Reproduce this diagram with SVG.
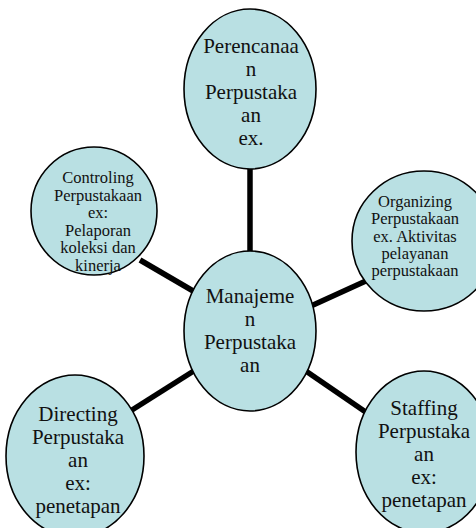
<svg xmlns="http://www.w3.org/2000/svg" width="476" height="528" viewBox="0 0 476 528">
<style>
.node ellipse{fill:#b9e0e3;stroke:#000;stroke-width:1.6}
.big{font-family:"Liberation Serif","Times New Roman",serif;font-size:21px;fill:#111;text-anchor:middle}
.small{font-family:"Liberation Serif","Times New Roman",serif;font-size:16.5px;fill:#111;text-anchor:middle}
.conn line{stroke:#000;stroke-width:5.5;stroke-linecap:butt}
</style>
<rect width="476" height="528" fill="#fff"/>
<g id="connectors" class="conn">
<line x1="250" y1="160" x2="250" y2="260"/>
<line x1="200" y1="295" x2="140" y2="260"/>
<line x1="300" y1="311" x2="368" y2="280"/>
<line x1="200" y1="367" x2="132" y2="410"/>
<line x1="300" y1="367" x2="370" y2="415"/>
</g>
<g id="perencanaan" class="node">
<ellipse cx="250" cy="89" rx="66" ry="80"/>
<text class="big" x="251" y="53">Perencanaa</text>
<text class="big" x="251" y="76">n</text>
<text class="big" x="251" y="99">Perpustaka</text>
<text class="big" x="251" y="122">an</text>
<text class="big" x="251" y="145">ex.</text>
</g>
<g id="controling" class="node">
<ellipse cx="94" cy="211" rx="63" ry="64"/>
<text class="small" x="98" y="183">Controling</text>
<text class="small" x="98" y="200.5">Perpustakaan</text>
<text class="small" x="98" y="218">ex:</text>
<text class="small" x="98" y="235.5">Pelaporan</text>
<text class="small" x="98" y="253">koleksi dan</text>
<text class="small" x="98" y="270.5">kinerja</text>
</g>
<g id="organizing" class="node">
<ellipse cx="424" cy="241" rx="72" ry="70"/>
<text class="small" x="415" y="207">Organizing</text>
<text class="small" x="415" y="224.3">Perpustakaan</text>
<text class="small" x="415" y="241.6">ex. Aktivitas</text>
<text class="small" x="415" y="258.9">pelayanan</text>
<text class="small" x="415" y="276.2">perpustakaan</text>
</g>
<g id="manajemen" class="node">
<ellipse cx="250" cy="331" rx="66" ry="80"/>
<text class="big" x="250" y="303">Manajeme</text>
<text class="big" x="250" y="326">n</text>
<text class="big" x="250" y="349">Perpustaka</text>
<text class="big" x="250" y="372">an</text>
</g>
<g id="directing" class="node">
<ellipse cx="75" cy="456" rx="69" ry="81"/>
<text class="big" x="78" y="421">Directing</text>
<text class="big" x="78" y="444">Perpustaka</text>
<text class="big" x="78" y="467">an</text>
<text class="big" x="78" y="490">ex:</text>
<text class="big" x="78" y="513">penetapan</text>
</g>
<g id="staffing" class="node">
<ellipse cx="424" cy="452" rx="68" ry="81"/>
<text class="big" x="424" y="415">Staffing</text>
<text class="big" x="424" y="438">Perpustaka</text>
<text class="big" x="424" y="461">an</text>
<text class="big" x="424" y="484">ex:</text>
<text class="big" x="424" y="507">penetapan</text>
</g>
</svg>
